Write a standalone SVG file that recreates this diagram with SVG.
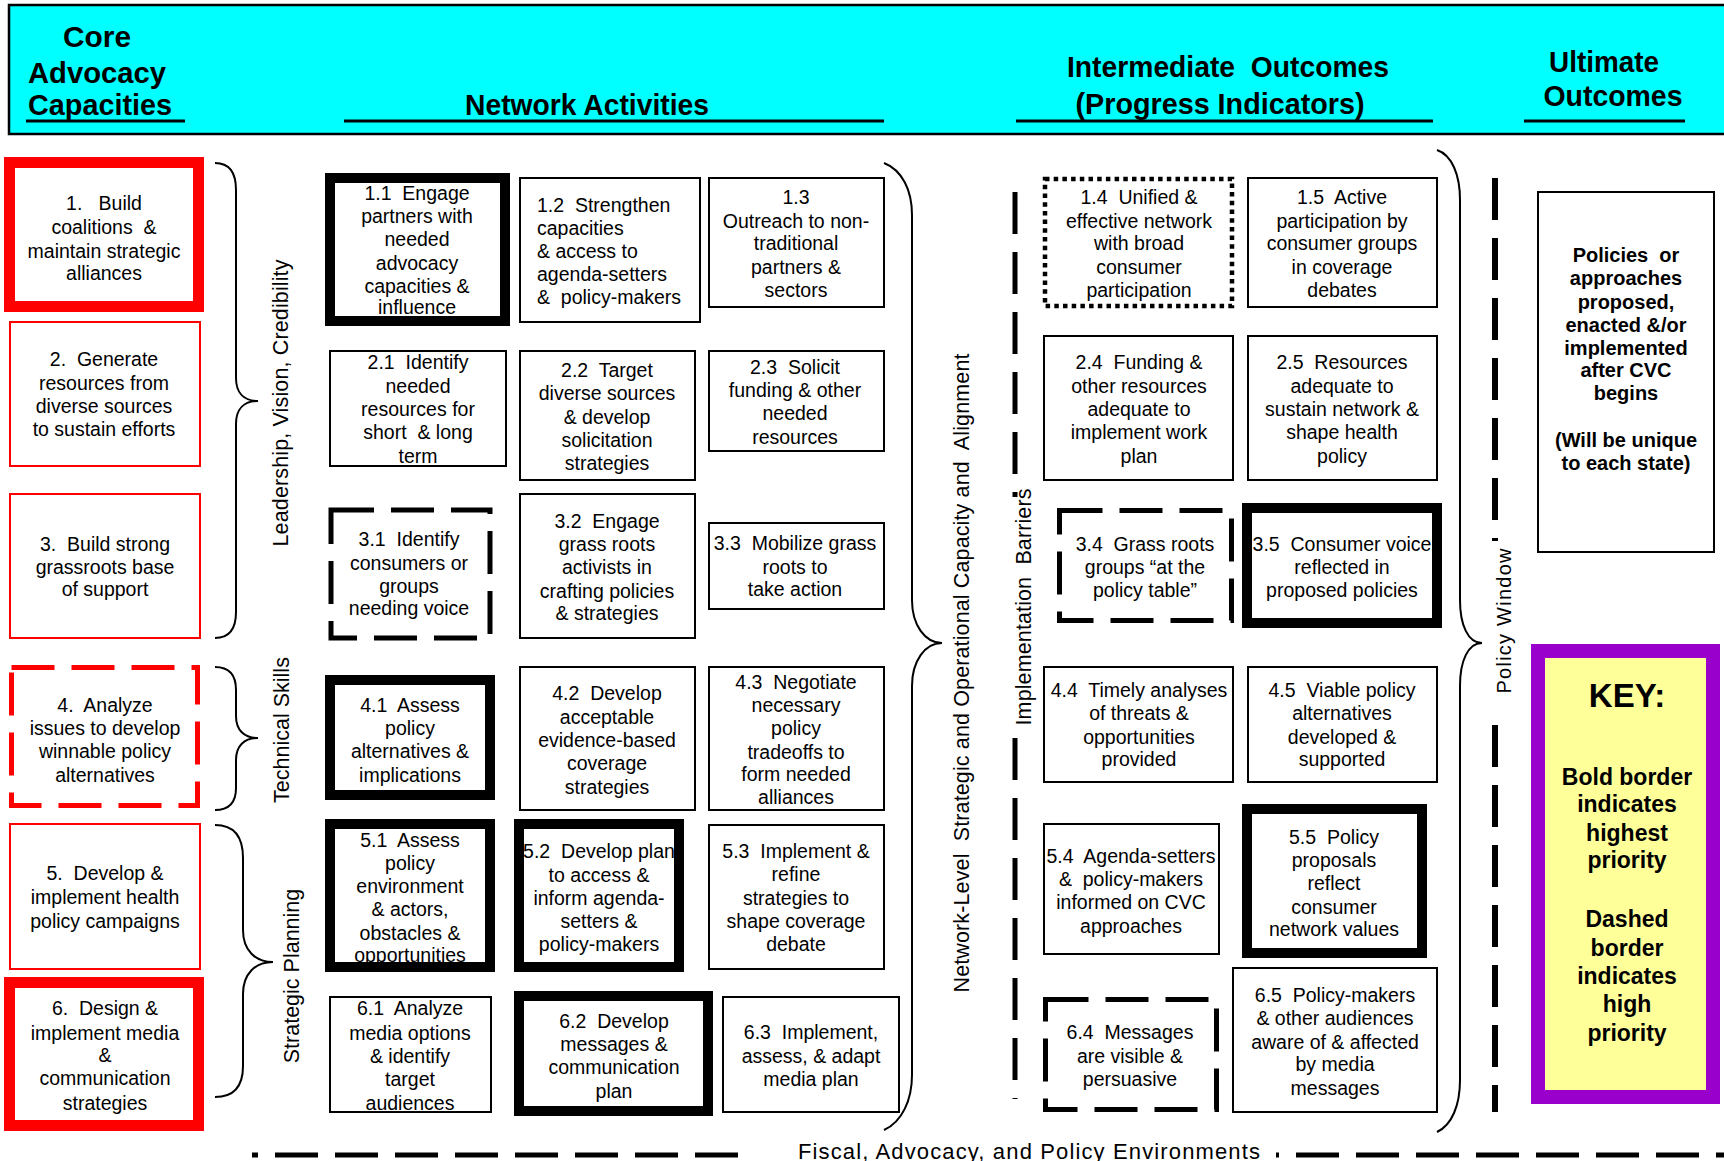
<svg xmlns="http://www.w3.org/2000/svg" width="1724" height="1161" viewBox="0 0 1724 1161">
<defs>
<style>
text{font-family:"Liberation Sans",Arial,sans-serif;fill:#000}
.t{font-size:19.5px;text-anchor:middle}
.tl{font-size:19.5px;text-anchor:start}
.h{font-size:29px;font-weight:bold;text-anchor:middle}
.r{font-size:21.5px;text-anchor:middle;dominant-baseline:central}
.ub{font-size:20px;font-weight:bold;text-anchor:middle}
.kb{font-size:23px;font-weight:bold;text-anchor:middle}
.thin{fill:#fff;stroke:#000;stroke-width:2}
.fill{fill:#fff;stroke:none}
.thick{fill:none;stroke:#000;stroke-width:10}
.rthin{fill:#fff;stroke:#f00;stroke-width:2}
.rthick{fill:#fff;stroke:#f00;stroke-width:11}
.dash{fill:#fff;stroke:#000;stroke-width:5;stroke-dasharray:43 17}
.rdash{fill:#fff;stroke:#f00;stroke-width:5;stroke-dasharray:43 17}
.dot{fill:#fff;stroke:#000;stroke-width:4.5;stroke-dasharray:4.5 4.2}
.brace{fill:none;stroke:#000;stroke-width:2}
.dl{fill:none;stroke:#000;stroke-width:5;stroke-dasharray:42 18}
.ul{stroke:#000;stroke-width:3}
</style>
</defs>
<rect width="1724" height="1161" fill="#fff"/>

<g id="header">
<rect x="9" y="5" width="1722" height="129" fill="#00FFFF" stroke="#000" stroke-width="2.5"/>
<text class="h" x="97" y="47" textLength="68" lengthAdjust="spacingAndGlyphs">Core</text>
<text class="h" x="97" y="83" textLength="138" lengthAdjust="spacingAndGlyphs">Advocacy</text>
<text class="h" x="100" y="115" textLength="144" lengthAdjust="spacingAndGlyphs">Capacities</text>
<line class="ul" x1="26" y1="121" x2="185" y2="121"/>
<text class="h" x="587" y="115" textLength="244" lengthAdjust="spacingAndGlyphs">Network Activities</text>
<line class="ul" x1="344" y1="121" x2="884" y2="121"/>
<text class="h" x="1228" y="77" textLength="322" lengthAdjust="spacingAndGlyphs">Intermediate&#160; Outcomes</text>
<text class="h" x="1220" y="114" textLength="289" lengthAdjust="spacingAndGlyphs">(Progress Indicators)</text>
<line class="ul" x1="1016" y1="121" x2="1433" y2="121"/>
<text class="h" x="1604" y="72" textLength="110" lengthAdjust="spacingAndGlyphs">Ultimate</text>
<text class="h" x="1613" y="106" textLength="139" lengthAdjust="spacingAndGlyphs">Outcomes</text>
<line class="ul" x1="1524" y1="121" x2="1685" y2="121"/>
</g>

<g id="connectors">
<path class="brace" d="M215,163 C229,163 236,172 236,190 L236,378 C236,393 244,401 258,401 C244,401 236,409 236,424 L236,612 C236,630 229,638 215,638"/>
<path class="brace" d="M215,667 C229,667 236,675 236,690 L236,716 C236,730 244,738 258,738 C244,738 236,746 236,760 L236,788 C236,803 229,810 215,810"/>
<path class="brace" d="M215,825 C233,825 243,836 243,858 L243,930 C243,950 255,962 273,962 C255,962 243,974 243,994 L243,1066 C243,1087 233,1097 215,1097"/>
<path class="brace" d="M884,163 C902,170 912,190 912,215 L912,600 C912,625 925,643 942,643 C925,643 912,661 912,686 L912,1075 C912,1100 902,1122 884,1130"/>
<path class="brace" d="M1437,150 C1452,155 1460,175 1460,200 L1460,600 C1460,625 1468,643 1482,643 C1468,643 1460,661 1460,686 L1460,1080 C1460,1105 1452,1125 1437,1132"/>
<path class="dl" d="M1015,192 V497 M1015,738 V1099"/>
<path class="dl" style="stroke-width:6" d="M1495,178 V541 M1495,725 V1112"/>
<path fill="none" stroke="#000" stroke-width="5" d="M252,1155 H258 M1276,1155 H1279"/>
<path fill="none" stroke="#000" stroke-width="5" stroke-dasharray="43 17" d="M275,1155 H738 M1296,1155 H1724"/>
</g>

<g id="labels">
<text class="r" transform="translate(281,403) rotate(-90)" textLength="287">Leadership, Vision, Credibility</text>
<text class="r" transform="translate(282,730) rotate(-90)">Technical Skills</text>
<text class="r" transform="translate(292,976) rotate(-90)">Strategic Planning</text>
<text class="r" transform="translate(962,673) rotate(-90)" textLength="639">Network-Level&#160; Strategic and Operational Capacity and&#160; Alignment</text>
<text class="r" transform="translate(1024,607) rotate(-90)" textLength="237">Implementation&#160; Barriers</text>
<text class="r" transform="translate(1504,621) rotate(-90)" style="font-size:20px" textLength="145">Policy Window</text>
<text x="798" y="1159" style="font-size:22px" textLength="462">Fiscal, Advocacy, and Policy Environments</text>
</g>

<g id="c1">
<rect class="rthick" x="9.5" y="162.5" width="189" height="144"/>
<text class="t" x="104" y="210">1.&#160;&#160; Build</text>
<text class="t" x="104" y="234">coalitions&#160; &amp;</text>
<text class="t" x="104" y="258">maintain strategic</text>
<text class="t" x="104" y="280">alliances</text>
</g>
<g id="c2">
<rect class="rthin" x="10" y="322" width="190" height="144"/>
<text class="t" x="104" y="366">2.&#160; Generate</text>
<text class="t" x="104" y="390">resources from</text>
<text class="t" x="104" y="413">diverse sources</text>
<text class="t" x="104" y="436">to sustain efforts</text>
</g>
<g id="c3">
<rect class="rthin" x="10" y="494" width="190" height="144"/>
<text class="t" x="105" y="551">3.&#160; Build strong</text>
<text class="t" x="105" y="574">grassroots base</text>
<text class="t" x="105" y="596">of support</text>
</g>
<g id="c4">
<rect class="rdash" x="11.5" y="667.5" width="186" height="138"/>
<text class="t" x="105" y="712">4.&#160; Analyze</text>
<text class="t" x="105" y="735">issues to develop</text>
<text class="t" x="105" y="758">winnable policy</text>
<text class="t" x="105" y="782">alternatives</text>
</g>
<g id="c5">
<rect class="rthin" x="10" y="824" width="190" height="145"/>
<text class="t" x="105" y="880">5.&#160; Develop &amp;</text>
<text class="t" x="105" y="904">implement health</text>
<text class="t" x="105" y="928">policy campaigns</text>
</g>
<g id="c6">
<rect class="rthick" x="9.5" y="982.5" width="189" height="143"/>
<text class="t" x="105" y="1015">6.&#160; Design &amp;</text>
<text class="t" x="105" y="1040">implement media</text>
<text class="t" x="105" y="1062">&amp;</text>
<text class="t" x="105" y="1085">communication</text>
<text class="t" x="105" y="1110">strategies</text>
</g>

<g id="a11">
<rect class="fill" x="330" y="178" width="175" height="143"/>
<text class="t" x="417" y="200">1.1&#160; Engage</text>
<text class="t" x="417" y="223">partners with</text>
<text class="t" x="417" y="246">needed</text>
<text class="t" x="417" y="270">advocacy</text>
<text class="t" x="417" y="293">capacities &amp;</text>
<text class="t" x="417" y="314">influence</text>
<rect class="thick" x="330" y="178" width="175" height="143"/>
</g>
<g id="a12">
<rect class="thin" x="520" y="178" width="180" height="144"/>
<text class="tl" x="537" y="212">1.2&#160; Strengthen</text>
<text class="tl" x="537" y="235">capacities</text>
<text class="tl" x="537" y="258">&amp; access to</text>
<text class="tl" x="537" y="281">agenda-setters</text>
<text class="tl" x="537" y="304">&amp;&#160; policy-makers</text>
</g>
<g id="a13">
<rect class="thin" x="709" y="178" width="175" height="129"/>
<text class="t" x="796" y="204">1.3</text>
<text class="t" x="796" y="228">Outreach to non-</text>
<text class="t" x="796" y="250">traditional</text>
<text class="t" x="796" y="274">partners &amp;</text>
<text class="t" x="796" y="297">sectors</text>
</g>
<g id="a21">
<rect class="thin" x="330" y="351" width="176" height="115"/>
<text class="t" x="418" y="369">2.1&#160; Identify</text>
<text class="t" x="418" y="393">needed</text>
<text class="t" x="418" y="416">resources for</text>
<text class="t" x="418" y="439">short&#160; &amp; long</text>
<text class="t" x="418" y="463">term</text>
</g>
<g id="a22">
<rect class="thin" x="520" y="351" width="175" height="129"/>
<text class="t" x="607" y="377">2.2&#160; Target</text>
<text class="t" x="607" y="400">diverse sources</text>
<text class="t" x="607" y="424">&amp; develop</text>
<text class="t" x="607" y="447">solicitation</text>
<text class="t" x="607" y="470">strategies</text>
</g>
<g id="a23">
<rect class="thin" x="709" y="351" width="175" height="100"/>
<text class="t" x="795" y="374">2.3&#160; Solicit</text>
<text class="t" x="795" y="397">funding &amp; other</text>
<text class="t" x="795" y="420">needed</text>
<text class="t" x="795" y="444">resources</text>
</g>
<g id="a31">
<rect class="dash" x="331" y="510" width="159" height="128"/>
<text class="t" x="409" y="546">3.1&#160; Identify</text>
<text class="t" x="409" y="570">consumers or</text>
<text class="t" x="409" y="593">groups</text>
<text class="t" x="409" y="615">needing voice</text>
</g>
<g id="a32">
<rect class="thin" x="520" y="494" width="175" height="144"/>
<text class="t" x="607" y="528">3.2&#160; Engage</text>
<text class="t" x="607" y="551">grass roots</text>
<text class="t" x="607" y="574">activists in</text>
<text class="t" x="607" y="598">crafting policies</text>
<text class="t" x="607" y="620">&amp; strategies</text>
</g>
<g id="a33">
<rect class="thin" x="709" y="523" width="175" height="86"/>
<text class="t" x="795" y="550">3.3&#160; Mobilize grass</text>
<text class="t" x="795" y="574">roots to</text>
<text class="t" x="795" y="596">take action</text>
</g>
<g id="a41">
<rect class="fill" x="330" y="680" width="160" height="115"/>
<text class="t" x="410" y="712">4.1&#160; Assess</text>
<text class="t" x="410" y="735">policy</text>
<text class="t" x="410" y="758">alternatives &amp;</text>
<text class="t" x="410" y="782">implications</text>
<rect class="thick" x="330" y="680" width="160" height="115"/>
</g>
<g id="a42">
<rect class="thin" x="520" y="667" width="175" height="143"/>
<text class="t" x="607" y="700">4.2&#160; Develop</text>
<text class="t" x="607" y="724">acceptable</text>
<text class="t" x="607" y="747">evidence-based</text>
<text class="t" x="607" y="770">coverage</text>
<text class="t" x="607" y="794">strategies</text>
</g>
<g id="a43">
<rect class="thin" x="709" y="667" width="175" height="143"/>
<text class="t" x="796" y="689">4.3&#160; Negotiate</text>
<text class="t" x="796" y="712">necessary</text>
<text class="t" x="796" y="735">policy</text>
<text class="t" x="796" y="759">tradeoffs to</text>
<text class="t" x="796" y="781">form needed</text>
<text class="t" x="796" y="804">alliances</text>
</g>
<g id="a51">
<rect class="fill" x="330" y="824" width="160" height="143"/>
<text class="t" x="410" y="847">5.1&#160; Assess</text>
<text class="t" x="410" y="870">policy</text>
<text class="t" x="410" y="893">environment</text>
<text class="t" x="410" y="916">&amp; actors,</text>
<text class="t" x="410" y="940">obstacles &amp;</text>
<text class="t" x="410" y="962">opportunities</text>
<rect class="thick" x="330" y="824" width="160" height="143"/>
</g>
<g id="a52">
<rect class="fill" x="519" y="824" width="160" height="143"/>
<text class="t" x="599" y="858">5.2&#160; Develop plan</text>
<text class="t" x="599" y="882">to access &amp;</text>
<text class="t" x="599" y="905">inform agenda-</text>
<text class="t" x="599" y="928">setters &amp;</text>
<text class="t" x="599" y="951">policy-makers</text>
<rect class="thick" x="519" y="824" width="160" height="143"/>
</g>
<g id="a53">
<rect class="thin" x="709" y="825" width="175" height="144"/>
<text class="t" x="796" y="858">5.3&#160; Implement &amp;</text>
<text class="t" x="796" y="881">refine</text>
<text class="t" x="796" y="905">strategies to</text>
<text class="t" x="796" y="928">shape coverage</text>
<text class="t" x="796" y="951">debate</text>
</g>
<g id="a61">
<rect class="thin" x="330" y="997" width="161" height="115"/>
<text class="t" x="410" y="1015">6.1&#160; Analyze</text>
<text class="t" x="410" y="1040">media options</text>
<text class="t" x="410" y="1063">&amp; identify</text>
<text class="t" x="410" y="1086">target</text>
<text class="t" x="410" y="1110">audiences</text>
</g>
<g id="a62">
<rect class="fill" x="519" y="996" width="189" height="115"/>
<text class="t" x="614" y="1028">6.2&#160; Develop</text>
<text class="t" x="614" y="1051">messages &amp;</text>
<text class="t" x="614" y="1074">communication</text>
<text class="t" x="614" y="1098">plan</text>
<rect class="thick" x="519" y="996" width="189" height="115"/>
</g>
<g id="a63">
<rect class="thin" x="723" y="997" width="176" height="115"/>
<text class="t" x="811" y="1039">6.3&#160; Implement,</text>
<text class="t" x="811" y="1063">assess, &amp; adapt</text>
<text class="t" x="811" y="1086">media plan</text>
</g>

<g id="o14">
<rect class="dot" x="1045" y="179" width="187" height="127"/>
<text class="t" x="1139" y="204">1.4&#160; Unified &amp;</text>
<text class="t" x="1139" y="228">effective network</text>
<text class="t" x="1139" y="250">with broad</text>
<text class="t" x="1139" y="274">consumer</text>
<text class="t" x="1139" y="297">participation</text>
</g>
<g id="o15">
<rect class="thin" x="1248" y="178" width="189" height="129"/>
<text class="t" x="1342" y="204">1.5&#160; Active</text>
<text class="t" x="1342" y="228">participation by</text>
<text class="t" x="1342" y="250">consumer groups</text>
<text class="t" x="1342" y="274">in coverage</text>
<text class="t" x="1342" y="297">debates</text>
</g>
<g id="o24">
<rect class="thin" x="1044" y="336" width="189" height="144"/>
<text class="t" x="1139" y="369">2.4&#160; Funding &amp;</text>
<text class="t" x="1139" y="393">other resources</text>
<text class="t" x="1139" y="416">adequate to</text>
<text class="t" x="1139" y="439">implement work</text>
<text class="t" x="1139" y="463">plan</text>
</g>
<g id="o25">
<rect class="thin" x="1248" y="336" width="189" height="144"/>
<text class="t" x="1342" y="369">2.5&#160; Resources</text>
<text class="t" x="1342" y="393">adequate to</text>
<text class="t" x="1342" y="416">sustain network &amp;</text>
<text class="t" x="1342" y="439">shape health</text>
<text class="t" x="1342" y="463">policy</text>
</g>
<g id="o34">
<rect class="dash" x="1059.5" y="510.5" width="172" height="110"/>
<text class="t" x="1145" y="551">3.4&#160; Grass roots</text>
<text class="t" x="1145" y="574">groups “at the</text>
<text class="t" x="1145" y="597">policy table”</text>
</g>
<g id="o35">
<rect class="fill" x="1247" y="508" width="190" height="115"/>
<text class="t" x="1342" y="551">3.5&#160; Consumer voice</text>
<text class="t" x="1342" y="574">reflected in</text>
<text class="t" x="1342" y="597">proposed policies</text>
<rect class="thick" x="1247" y="508" width="190" height="115"/>
</g>
<g id="o44">
<rect class="thin" x="1044" y="667" width="189" height="115"/>
<text class="t" x="1139" y="697">4.4&#160; Timely analyses</text>
<text class="t" x="1139" y="720">of threats &amp;</text>
<text class="t" x="1139" y="744">opportunities</text>
<text class="t" x="1139" y="766">provided</text>
</g>
<g id="o45">
<rect class="thin" x="1248" y="667" width="189" height="115"/>
<text class="t" x="1342" y="697">4.5&#160; Viable policy</text>
<text class="t" x="1342" y="720">alternatives</text>
<text class="t" x="1342" y="744">developed &amp;</text>
<text class="t" x="1342" y="766">supported</text>
</g>
<g id="o54">
<rect class="thin" x="1044" y="824" width="175" height="130"/>
<text class="t" x="1131" y="863">5.4&#160; Agenda-setters</text>
<text class="t" x="1131" y="886">&amp;&#160; policy-makers</text>
<text class="t" x="1131" y="909">informed on CVC</text>
<text class="t" x="1131" y="933">approaches</text>
</g>
<g id="o55">
<rect class="fill" x="1247" y="809" width="175" height="144"/>
<text class="t" x="1334" y="844">5.5&#160; Policy</text>
<text class="t" x="1334" y="867">proposals</text>
<text class="t" x="1334" y="890">reflect</text>
<text class="t" x="1334" y="914">consumer</text>
<text class="t" x="1334" y="936">network values</text>
<rect class="thick" x="1247" y="809" width="175" height="144"/>
</g>
<g id="o64">
<rect class="dash" x="1045.5" y="999.5" width="171" height="110"/>
<text class="t" x="1130" y="1039">6.4&#160; Messages</text>
<text class="t" x="1130" y="1063">are visible &amp;</text>
<text class="t" x="1130" y="1086">persuasive</text>
</g>
<g id="o65">
<rect class="thin" x="1233" y="968" width="204" height="144"/>
<text class="t" x="1335" y="1002">6.5&#160; Policy-makers</text>
<text class="t" x="1335" y="1025">&amp; other audiences</text>
<text class="t" x="1335" y="1049">aware of &amp; affected</text>
<text class="t" x="1335" y="1071">by media</text>
<text class="t" x="1335" y="1095">messages</text>
</g>

<g id="ultimate">
<rect class="thin" x="1538" y="192" width="176" height="360"/>
<text class="ub" x="1626" y="262">Policies&#160; or</text>
<text class="ub" x="1626" y="285">approaches</text>
<text class="ub" x="1626" y="309">proposed,</text>
<text class="ub" x="1626" y="332">enacted &amp;/or</text>
<text class="ub" x="1626" y="355">implemented</text>
<text class="ub" x="1626" y="377">after CVC</text>
<text class="ub" x="1626" y="400">begins</text>
<text class="ub" x="1626" y="447">(Will be unique</text>
<text class="ub" x="1626" y="470">to each state)</text>
</g>

<g id="key">
<rect x="1538" y="651" width="175" height="446" fill="#FFFF99" stroke="#9900CC" stroke-width="14"/>
<text class="kb" x="1627" y="707" style="font-size:33px">KEY:</text>
<text class="kb" x="1627" y="785">Bold border</text>
<text class="kb" x="1627" y="812">indicates</text>
<text class="kb" x="1627" y="841">highest</text>
<text class="kb" x="1627" y="868">priority</text>
<text class="kb" x="1627" y="927">Dashed</text>
<text class="kb" x="1627" y="956">border</text>
<text class="kb" x="1627" y="984">indicates</text>
<text class="kb" x="1627" y="1012">high</text>
<text class="kb" x="1627" y="1041">priority</text>
</g>
</svg>
